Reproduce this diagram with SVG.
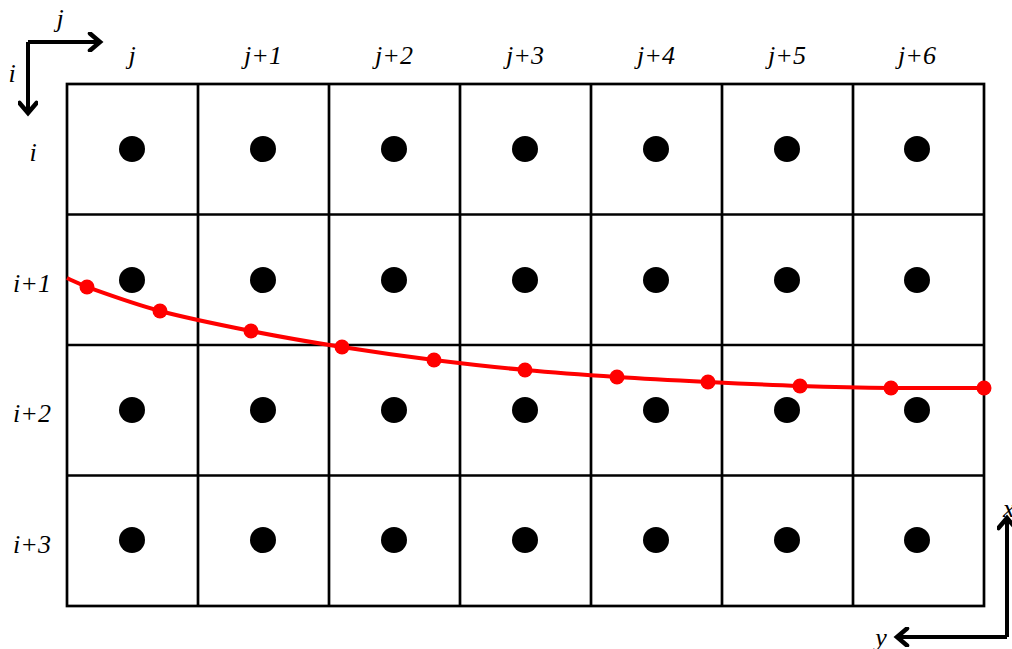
<svg xmlns="http://www.w3.org/2000/svg" width="1012" height="649" viewBox="0 0 1012 649">
<style>
.grid{fill:none;stroke:#000;stroke-width:2.7}
.lbl{font-family:"Liberation Serif","Times New Roman",serif;font-style:italic;font-size:26px;fill:#000}
.axis{fill:none;stroke:#000;stroke-width:4}
.dot{fill:#000}
.rdot{fill:#ff0000}
</style>
<defs>
<marker id="chev" viewBox="0 0 20 20" refX="14" refY="10" markerWidth="20" markerHeight="20" markerUnits="userSpaceOnUse" orient="auto">
<polyline points="4,1.5 14,10 4,18.5" fill="none" stroke="#000" stroke-width="4.5" stroke-linecap="round" stroke-linejoin="miter"/>
</marker>
</defs>
<rect width="1012" height="649" fill="#fff"/>
<g id="grid">
<rect class="grid" x="67" y="84" width="917" height="522"/>
<path class="grid" d="M198,84V606M329,84V606M460,84V606M591,84V606M722,84V606M853,84V606M67,214.5H984M67,345H984M67,475.5H984"/>
</g>
<g id="dots">
<g id="row0"><circle class="dot" cx="132" cy="149" r="13"/><circle class="dot" cx="263" cy="149" r="13"/><circle class="dot" cx="394" cy="149" r="13"/><circle class="dot" cx="525" cy="149" r="13"/><circle class="dot" cx="656" cy="149" r="13"/><circle class="dot" cx="787" cy="149" r="13"/><circle class="dot" cx="917" cy="149" r="13"/></g>
<g id="row1"><circle class="dot" cx="132" cy="280" r="13"/><circle class="dot" cx="263" cy="280" r="13"/><circle class="dot" cx="394" cy="280" r="13"/><circle class="dot" cx="525" cy="280" r="13"/><circle class="dot" cx="656" cy="280" r="13"/><circle class="dot" cx="787" cy="280" r="13"/><circle class="dot" cx="917" cy="280" r="13"/></g>
<g id="row2"><circle class="dot" cx="132" cy="410" r="13"/><circle class="dot" cx="263" cy="410" r="13"/><circle class="dot" cx="394" cy="410" r="13"/><circle class="dot" cx="525" cy="410" r="13"/><circle class="dot" cx="656" cy="410" r="13"/><circle class="dot" cx="787" cy="410" r="13"/><circle class="dot" cx="917" cy="410" r="13"/></g>
<g id="row3"><circle class="dot" cx="132" cy="540" r="13"/><circle class="dot" cx="263" cy="540" r="13"/><circle class="dot" cx="394" cy="540" r="13"/><circle class="dot" cx="525" cy="540" r="13"/><circle class="dot" cx="656" cy="540" r="13"/><circle class="dot" cx="787" cy="540" r="13"/><circle class="dot" cx="917" cy="540" r="13"/></g>
</g>
<g id="curve">
<path d="M67,278 C72,280.5 80,284 87,287 C102.5,292.5 132.7,303.7 160,311 C187.3,318.3 220.7,325 251,331 C281.3,337 311.5,342.2 342,347 C372.5,351.8 403.5,356.2 434,360 C464.5,363.8 494.5,367.2 525,370 C555.5,372.8 586.5,375 617,377 C647.5,379 677.5,380.5 708,382 C738.5,383.5 769.5,385 800,386 C830.5,387 860.3,387.7 891,388 C921.7,388.3 968.5,388 984,388" fill="none" stroke="#ff0000" stroke-width="4"/>
<circle class="rdot" cx="87" cy="287" r="7.5"/><circle class="rdot" cx="160" cy="311" r="7.5"/><circle class="rdot" cx="251" cy="331" r="7.5"/><circle class="rdot" cx="342" cy="347" r="7.5"/><circle class="rdot" cx="434" cy="360" r="7.5"/><circle class="rdot" cx="525" cy="370" r="7.5"/><circle class="rdot" cx="617" cy="377" r="7.5"/><circle class="rdot" cx="708" cy="382" r="7.5"/><circle class="rdot" cx="800" cy="386" r="7.5"/><circle class="rdot" cx="891" cy="388" r="7.5"/><circle class="rdot" cx="984" cy="388" r="7.5"/>
</g>
<g id="col-labels" text-anchor="middle">
<text class="lbl" x="132" y="64">j</text>
<text class="lbl" x="263" y="64">j+1</text>
<text class="lbl" x="394" y="64">j+2</text>
<text class="lbl" x="525" y="64">j+3</text>
<text class="lbl" x="656" y="64">j+4</text>
<text class="lbl" x="787" y="64">j+5</text>
<text class="lbl" x="917" y="64">j+6</text>
</g>
<g id="row-labels" text-anchor="middle">
<text class="lbl" x="33" y="161">i</text>
<text class="lbl" x="32" y="292">i+1</text>
<text class="lbl" x="32" y="422">i+2</text>
<text class="lbl" x="32" y="553">i+3</text>
</g>
<g id="axes-ij">
<path class="axis" d="M28,42H100" marker-end="url(#chev)"/>
<path class="axis" d="M28,42V113" marker-end="url(#chev)"/>
<text class="lbl" x="60" y="27" text-anchor="middle">j</text>
<text class="lbl" x="12" y="82" text-anchor="middle">i</text>
</g>
<g id="axes-xy">
<path class="axis" d="M1007,637V518" marker-end="url(#chev)"/>
<path class="axis" d="M1007,637H897" marker-end="url(#chev)"/>
<text class="lbl" x="1003" y="517">x</text>
<text class="lbl" x="881" y="646" text-anchor="middle">y</text>
</g>
</svg>
